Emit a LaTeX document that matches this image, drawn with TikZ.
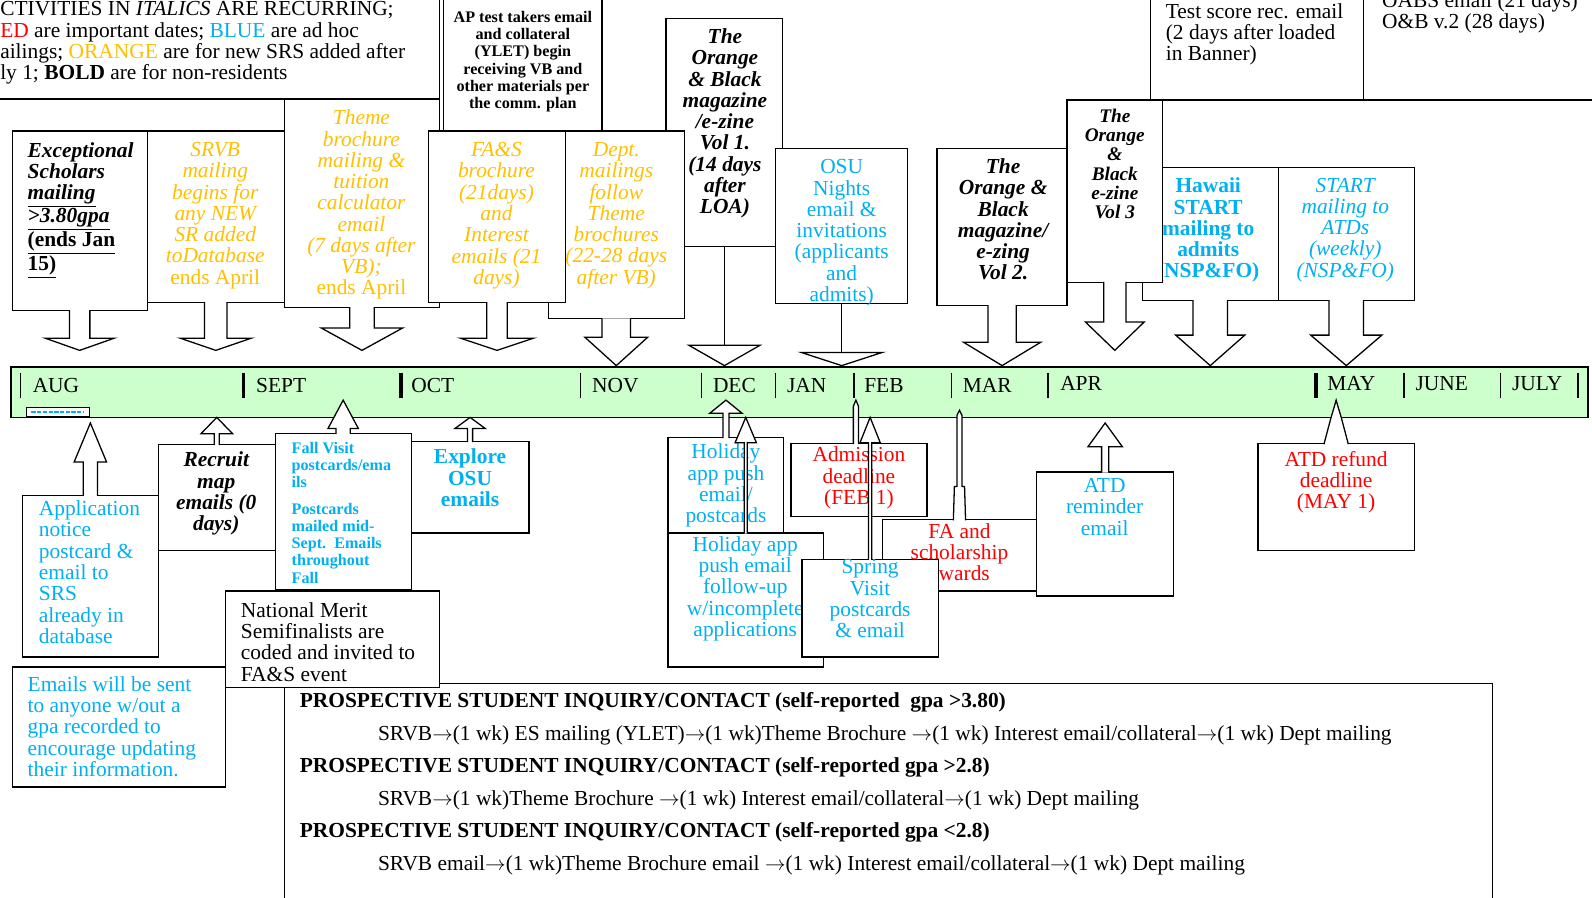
\documentclass[tikz,border=0pt]{standalone}
\usepackage{fontspec}
\setmainfont{Liberation Serif}
\usepackage{xcolor}
\usetikzlibrary{fit,calc}

\definecolor{mcOrange}{HTML}{FFC000}
\definecolor{mcBlue}{HTML}{00B0F0}
\definecolor{mcRed}{HTML}{FF0000}
\definecolor{mcGreen}{HTML}{CCFFCC}

% one pixel of the layout grid
\def\pxu{0.7113pt}

% block arrow from a box down to the timeline: box, shaft half, head half, head base, tip
\newcommand{\blkdown}[5]{%
  \draw[blk] let \p1=(#1.south) in
    (\x1-#2*\pxu,\y1+0.8pt) -- (\x1-#2*\pxu,-#4*\pxu) -- (\x1-#3*\pxu,-#4*\pxu) -- (\x1,-#5*\pxu)
    -- (\x1+#3*\pxu,-#4*\pxu) -- (\x1+#2*\pxu,-#4*\pxu) -- (\x1+#2*\pxu,\y1+0.8pt);}
% block arrow from a box up to the timeline
\newcommand{\blkup}[5]{%
  \draw[blk] let \p1=(#1.north) in
    (\x1-#2*\pxu,\y1-0.8pt) -- (\x1-#2*\pxu,-#4*\pxu) -- (\x1-#3*\pxu,-#4*\pxu) -- (\x1,-#5*\pxu)
    -- (\x1+#3*\pxu,-#4*\pxu) -- (\x1+#2*\pxu,-#4*\pxu) -- (\x1+#2*\pxu,\y1-0.8pt);}
% plain stem with a flat open head: box, head half, head base, tip
\newcommand{\stemdown}[4]{%
  \draw[line width=0.9pt] let \p1=(#1.south) in (\x1,\y1) -- (\x1,-#3*\pxu);
  \draw[blk] let \p1=(#1.south) in
    (\x1-#2*\pxu,-#3*\pxu) -- (\x1,-#4*\pxu) -- (\x1+#2*\pxu,-#3*\pxu) -- cycle;}

\tikzset{
  plainbox/.style={draw=black, line width=0.9pt, fill=white, inner sep=0pt},
  blk/.style={draw=black, line width=0.9pt, fill=white, line join=miter},
  txt/.style={inner sep=0pt, align=center, anchor=north, font=\fontsize{15}{14.9}\selectfont},
  ltxt/.style={txt, align=left, anchor=north west},
  itxt/.style={txt, font=\fontsize{15}{14.9}\selectfont\itshape},
  bitxt/.style={txt, font=\fontsize{15}{14.9}\selectfont\bfseries\itshape},
  btxt/.style={txt, font=\fontsize{15}{14.9}\selectfont\bfseries},
  smalltxt/.style={txt, font=\fontsize{11.3}{12}\selectfont\bfseries},
  month/.style={inner sep=0pt, anchor=west, font=\fontsize{15}{15}\selectfont},
  monthsep/.style={line width=1pt},
}

\begin{document}
\begin{tikzpicture}[x=0.025cm, y=-0.025cm]
\useasboundingbox (0,0) rectangle (1568,884);
\fill[white] (0,0) rectangle (1568,884);
\clip (0,0) rectangle (1568,884);

% top row
\node[plainbox, fit={(-10,-10) (433,97.5)}] (legend) {};
\node[ltxt] (legendT) at (0,1.5) {CTIVITIES IN \textit{ITALICS} ARE RECURRING;\\
  {\color{mcRed}ED} are important dates; {\color{mcBlue}BLUE} are ad hoc\\
  ailings; {\color{mcOrange}ORANGE} are for new SRS added after\\
  ly 1; \textbf{BOLD} are for non-residents};
\node[plainbox, fit={(1133,-10) (1343,98.5)}] (testbox) {};
\node[ltxt] (testT) at (1148,3) {Test score rec. email\\(2 days after loaded\\in Banner)};
\node[plainbox, fit={(1343,-10) (1600,98.5)}] (obtwo) {};
\node[ltxt] (obtwoT) at (1361,-8) {OABS email (21 days)\\O\&B v.2 (28 days)};
\node[plainbox, fit={(437,-10) (593,129)}] (apbox) {};
\node[smalltxt] (apT) at (515,11) {AP test takers email\\and collateral\\(YLET) begin\\receiving VB and\\other materials per\\the comm. plan};

\node[plainbox, fit={(656,18) (771,243)}] (obone) {};
\node[bitxt] (oboneT) at (714,28) {The\\Orange\\\& Black\\magazine\\/e-zine\\Vol 1.\\(14 days\\after\\LOA)};
\node[plainbox, fit={(540,129) (674,314)}] (dept) {};
\node[itxt, text=mcOrange] (deptT) at (607,140) {Dept.\\mailings\\follow\\Theme\\brochures\\(22-28 days\\after VB)};
\node[plainbox, fit={(280,98) (433,303)}] (theme) {};
\node[itxt, text=mcOrange] (themeT) at (356,108) {Theme\\brochure\\mailing \&\\tuition\\calculator\\email\\(7 days after\\VB);\\{\upshape ends April}};
\node[plainbox, fit={(422,129) (557,298)}] (fas) {};
\node[itxt, text=mcOrange] (fasT) at (489,140) {FA\&S\\brochure\\(21days)\\and\\Interest\\emails (21\\days)};
\node[plainbox, fit={(145,129) (280,298)}] (srvb) {};
\node[itxt, text=mcOrange] (srvbT) at (212,140) {SRVB\\mailing\\begins for\\any NEW\\SR added\\toDatabase\\{\upshape ends April}};
\node[plainbox, fit={(12,129) (145,306)}] (excep) {};
\node[ltxt, font=\fontsize{15}{14.9}\selectfont\bfseries] (excepT) at (27,140) {\textit{Exceptional}\\\textit{Scholars}\\
  \underline{\textit{mailing}}\\\underline{\textit{>3.80gpa}}\\\underline{(ends Jan}\\\underline{15)}};
\node[plainbox, fit={(764,146) (894,299)}] (osu) {};
\node[txt, text=mcBlue] (osuT) at (829,157) {OSU\\Nights\\email \&\\invitations\\(applicants\\and\\admits)};
\node[plainbox, fit={(923,146) (1051,301)}] (obvol2) {};
\node[bitxt] (obvol2T) at (988,156) {The\\Orange \&\\Black\\magazine/\\e-zing\\Vol 2.};
\node[plainbox, fit={(1125,165) (1259,296)}] (hawaii) {};
\node[btxt, text=mcBlue] (hawaiiT) at (1190,175) {Hawaii\\START\\mailing to\\admits\\(NSP\&FO)};
\node[plainbox, fit={(1259,165) (1393,296)}] (atds) {};
\node[itxt, text=mcBlue] (atdsT) at (1325,175) {START\\mailing to\\ATDs\\(weekly)\\(NSP\&FO)};
\node[plainbox, fit={(1051,98.5) (1145,278)}] (obvol3) {};
\node[txt, font=\fontsize{13.5}{13.5}\selectfont\bfseries\itshape] (obvol3T) at (1098,107) {The\\Orange\\\&\\Black\\e-zine\\Vol 3};

% timeline
\node[fill=mcGreen, draw, line width=1pt, inner sep=0pt, fit={(11,361.5) (1564,411)}] (timeline) {};
\foreach \sx in {20,572,691,764,841,937,1032,1383,1478,1554}
  \draw[monthsep] (\sx,367) -- (\sx,392);
\foreach \sx in {240,395,1296}
  \draw[monthsep, line width=2.4pt] (\sx,367) -- (\sx,392);
\foreach \mname/\mx/\my in {AUG/32/380, SEPT/252/380, OCT/405/380, NOV/583/380, DEC/702/380,
    JAN/775/380, FEB/851/380, MAR/948/380, APR/1044/378, MAY/1307/378, JUNE/1394/378, JULY/1489/378}
  \node[month] (m\mname) at (\mx,\my) {\mname};
\node[plainbox, line width=0.6pt, fit={(26,401) (88,410)}] (tinybox) {};
\draw[mcBlue, line width=1.2pt, dash pattern=on 3pt off 1pt] (31,405.5) -- (82,405.5);

% arrows down to the timeline
\blkdown{excep}{10}{34}{333}{345}
\blkdown{srvb}{11}{35}{333}{345}
\blkdown{theme}{12}{40}{323}{345}
\blkdown{fas}{10}{36}{333}{345}
\blkdown{dept}{14}{31}{332}{360}
\stemdown{obone}{35}{340}{360}
\stemdown{osu}{40}{347}{360}
\blkdown{obvol2}{14}{38}{337}{360}
\blkdown{obvol3}{11}{29}{317}{345}
\blkdown{hawaii}{17}{34}{330}{360}
\blkdown{atds}{17}{35}{330}{360}

% bottom row
\node[plainbox, fit={(22,488) (156,647)}] (appl) {};
\node[ltxt, text=mcBlue] (applT) at (38,493) {Application\\notice\\postcard \&\\email to\\SRS\\already in\\database};
\node[plainbox, fit={(156,438) (271,542)}] (recruit) {};
\node[bitxt] (recruitT) at (213,445) {Recruit\\map\\emails (0\\days)};
\node[plainbox, fit={(271,427) (405,581)}] (fall) {};
\node[smalltxt, align=left, anchor=north west, text=mcBlue] (fallT) at (287,435) {Fall Visit\\postcards/ema\\ils\\[7pt]Postcards\\mailed mid-\\Sept.\ \ Emails\\throughout\\Fall};
\node[plainbox, fit={(405,435) (521,525)}] (explore) {};
\node[btxt, text=mcBlue] (exploreT) at (463,442) {Explore\\OSU\\emails};
\node[plainbox, fit={(12,657) (222,775)}] (emails) {};
\node[ltxt, text=mcBlue] (emailsT) at (27,666) {Emails will be sent\\to anyone w/out a\\gpa recorded to\\encourage updating\\their information.};
\node[plainbox, fit={(280,673) (1470,900)}] (flow) {};
\node[ltxt, font=\fontsize{15}{22.76}\selectfont] (flowT) at (295,682) {%
  \textbf{PROSPECTIVE STUDENT INQUIRY/CONTACT (self-reported\ \ gpa >3.80)}\\
  \hspace*{54.8pt}SRVB$\rightarrow$(1 wk) ES mailing (YLET)$\rightarrow$(1 wk)Theme Brochure $\rightarrow$(1 wk) Interest email/collateral$\rightarrow$(1 wk) Dept mailing\\
  \textbf{PROSPECTIVE STUDENT INQUIRY/CONTACT (self-reported gpa >2.8)}\\
  \hspace*{54.8pt}SRVB$\rightarrow$(1 wk)Theme Brochure $\rightarrow$(1 wk) Interest email/collateral$\rightarrow$(1 wk) Dept mailing\\
  \textbf{PROSPECTIVE STUDENT INQUIRY/CONTACT (self-reported gpa <2.8)}\\
  \hspace*{54.8pt}SRVB email$\rightarrow$(1 wk)Theme Brochure email $\rightarrow$(1 wk) Interest email/collateral$\rightarrow$(1 wk) Dept mailing};
\node[plainbox, fit={(222,582) (433,677)}] (merit) {};
\node[ltxt] (meritT) at (237,593) {National Merit\\Semifinalists are\\coded and invited to\\FA\&S event};

\node[plainbox, fit={(658,431) (772,525)}] (hol1) {};
\node[txt, text=mcBlue] (hol1T) at (715,437) {Holiday\\app push\\email/\\postcards};
\node[plainbox, fit={(658,525) (811,657)}] (hol2) {};
\node[txt, text=mcBlue] (hol2T) at (734,528) {Holiday app\\push email\\follow-up\\w/incomplete\\applications};
\node[plainbox, fit={(779,437) (913,509)}] (adm) {};
\node[txt, text=mcRed] (admT) at (846,440) {Admission\\deadline\\(FEB 1)};
\node[plainbox, fit={(869,512) (1021,582)}] (faaw) {};
\node[txt, text=mcRed] (faawT) at (945,515) {FA and\\scholarship\\awards};
\node[plainbox, fit={(790,551) (924,647)}] (spring) {};
\node[txt, text=mcBlue] (springT) at (857,551) {Spring\\Visit\\postcards\\\& email};
\node[plainbox, fit={(1021,465) (1156,587)}] (atdrem) {};
\node[txt, text=mcBlue] (atdremT) at (1088,471) {ATD\\reminder\\email};
\node[plainbox, fit={(1239,437) (1393,542)}] (atdref) {};
\node[txt, text=mcRed] (atdrefT) at (1316,444) {ATD refund\\deadline\\(MAY 1)};

% arrows up to the timeline
\blkup{appl}{7}{16}{455}{416.5}
\blkup{recruit}{2.5}{15.5}{427}{411}
\blkup{fall}{7}{15}{422}{394}
\blkup{explore}{2.5}{15}{422}{411}
\blkup{hol1}{3}{16}{407}{394}
\blkup{hol2}{1.5}{10.5}{436}{411}
\draw[blk] let \p1=(adm.north) in (\x1-5.5*\pxu,\y1-0.8pt) -- (\x1-5.5*\pxu,-400*\pxu) -- (\x1-3*\pxu,-394*\pxu)
  -- (\x1-0.5*\pxu,-400*\pxu) -- (\x1-0.5*\pxu,\y1-0.8pt);
\blkup{spring}{1.5}{10}{436}{411}
\draw[blk] let \p1=(faaw.north) in (\x1-6*\pxu,\y1-0.8pt) -- (\x1-5*\pxu,-479*\pxu) -- (\x1-2.5*\pxu,-479*\pxu)
  -- (\x1-2.5*\pxu,-409*\pxu) -- (\x1,-404*\pxu) -- (\x1+2.5*\pxu,-409*\pxu) -- (\x1+2.5*\pxu,-479*\pxu)
  -- (\x1+5*\pxu,-479*\pxu) -- (\x1+6*\pxu,\y1-0.8pt);
\blkup{atdrem}{3.5}{17}{440}{416.5}
\draw[blk] let \p1=(atdref.north) in (\x1-12*\pxu,\y1-0.8pt) -- (\x1-5*\pxu,-411*\pxu) -- (\x1-2*\pxu,-401*\pxu)
  -- (\x1,-394*\pxu) -- (\x1+2*\pxu,-401*\pxu) -- (\x1+5*\pxu,-411*\pxu) -- (\x1+12*\pxu,\y1-0.8pt);
\end{tikzpicture}
\end{document}
